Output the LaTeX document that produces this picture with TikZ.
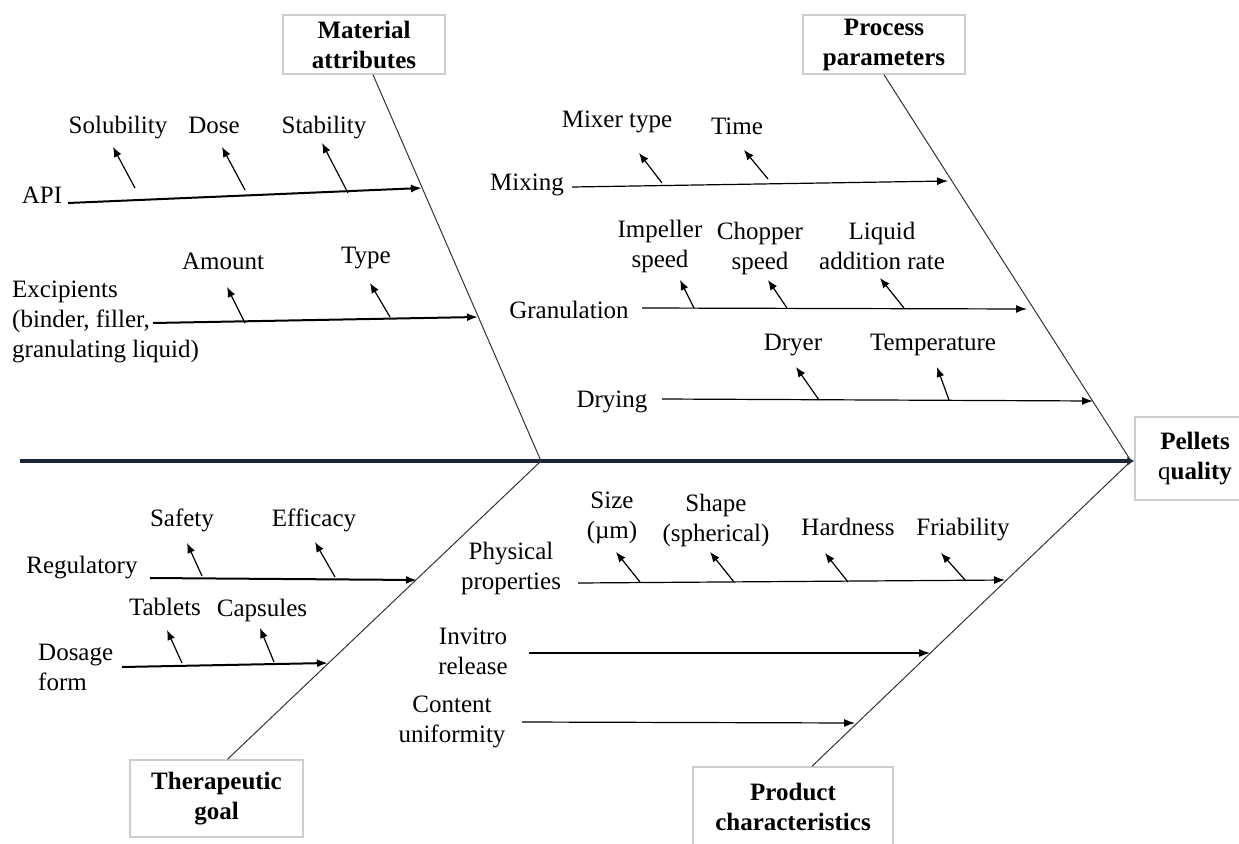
\documentclass[tikz,border=0pt]{standalone}
\usepackage{fontspec}
\setmainfont{Liberation Serif}
\usetikzlibrary{arrows.meta}
\definecolor{spinecol}{RGB}{28,36,60}
\definecolor{boxline}{RGB}{205,205,205}
\tikzset{
  txt/.style={font=\fontsize{25}{30}\selectfont, inner sep=0pt, align=center},
  catbox/.style={draw=boxline, line width=1.5pt, fill=white, inner sep=0pt,
    font=\fontsize{25}{30}\selectfont\bfseries, align=center},
  spine/.style={-{Latex[length=7pt,width=10pt]}, line width=4pt, draw=spinecol},
  bone/.style={line width=1pt, draw=black!80},
  cause/.style={-{Latex[length=11pt,width=8pt]}, line width=2pt},
  causethin/.style={-{Latex[length=11pt,width=8pt]}, line width=1.2pt},
  subarr/.style={-{Latex[length=10pt,width=8pt]}, line width=1.2pt}
}
\begin{document}
\begin{tikzpicture}[x=1pt,y=-1pt]
\useasboundingbox (0,0) rectangle (1239,843);

\node[catbox, minimum width=162pt, minimum height=59pt] (mat) at (364,44.5) {Material\\attributes};
\node[catbox, minimum width=162pt, minimum height=59pt] (proc) at (884,44.5) {Process\\parameters};
\node[catbox, minimum width=173pt, minimum height=77pt] (ther) at (216.5,798.5) {Therapeutic\\goal};
\node[catbox, minimum width=200pt, minimum height=80pt] (prod) at (793,807) {Product\\characteristics};
\node[catbox, minimum width=120pt, minimum height=83pt] (pq) at (1195,458.5) {Pellets\\{\mdseries q}uality};

\coordinate (tail) at (20,461);
\coordinate (matj) at (541,461);
\coordinate (effj) at (1131,461);
\draw[spine] (tail) -- (pq.west |- tail);

\draw[bone] ([xshift=9pt]mat.south) -- (matj);
\draw[bone] (proc.south) -- (effj);
\draw[bone] ([xshift=11pt]ther.north) -- (matj);
\draw[bone] ([xshift=19pt]prod.north) -- (effj);

\node[txt] (api) at (42,195) {API};
\coordinate (api-a) at (68,203);
\coordinate (api-b) at (422,188);
\draw[cause] (api-a) -- (api-b);

\node[txt, anchor=west, align=left] (exc) at (12,322) {Excipients\\(binder, filler,\\granulating liquid)};
\coordinate (exc-a) at (153,323);
\coordinate (exc-b) at (478,317);
\draw[cause] (exc-a) -- (exc-b);

\node[txt] (mixing) at (527,185) {Mixing};
\coordinate (mixing-a) at (572,187);
\coordinate (mixing-b) at (948,181);
\draw[causethin] (mixing-a) -- (mixing-b);

\node[txt] (gran) at (569,310) {Granulation};
\coordinate (gran-a) at (642,308);
\coordinate (gran-b) at (1027,309);
\draw[causethin] (gran-a) -- (gran-b);

\node[txt] (drying) at (612,402) {Drying};
\coordinate (drying-a) at (662,399);
\coordinate (drying-b) at (1093,401);
\draw[causethin] (drying-a) -- (drying-b);

\node[txt] (reg) at (82,568) {Regulatory};
\coordinate (reg-a) at (150,578);
\coordinate (reg-b) at (417,580);
\draw[cause] (reg-a) -- (reg-b);

\node[txt, anchor=west, align=left] (dos) at (38,667) {Dosage\\form};
\coordinate (dos-a) at (122,667);
\coordinate (dos-b) at (328,663);
\draw[cause] (dos-a) -- (dos-b);

\node[txt] (phys) at (511,568) {Physical\\properties};
\coordinate (phys-a) at (578,583);
\coordinate (phys-b) at (1005,580);
\draw[causethin] (phys-a) -- (phys-b);

\node[txt] (invit) at (473,651) {Invitro\\release};
\coordinate (invit-a) at (529,653);
\coordinate (invit-b) at (930,653);
\draw[causethin] (invit-a) -- (invit-b);

\node[txt] (cont) at (452,722) {Content\\uniformity};
\coordinate (cont-a) at (522,722);
\coordinate (cont-b) at (855,723);
\draw[causethin] (cont-a) -- (cont-b);

\foreach \nm/\ax/\ay/\bx/\by/\lx/\ly/\txt in {
  sol/135/188/113/147/118/128/Solubility,
  dose/245/190/222/147/214/125/Dose,
  stab/348/193/322/143/324/128/Stability,
  amt/245/323/227/287/223/261/Amount,
  typ/390/317/370/283/366/258/Type,
  mix/662/183/639/153/617/122/Mixer type,
  time/768/179/744/150/737/126/Time,
  imp/694/308/680/280/660/246/{Impeller\\speed},
  chop/787/308/768/280/760/248/{Chopper\\speed},
  liq/904/308/880/278/882/246/{Liquid\\addition rate},
  dry/819/400/796/367/793/345/Dryer,
  temp/949/400/937/367/933/345/Temperature,
  saf/202/576/187/543/182/520/Safety,
  eff/335/577/315/542/314/520/Efficacy,
  tab/182/663/167/630/165/607/Tablets,
  cap/274/662/260/628/262/610/Capsules,
  size/640/582/616/552/612/518/{Size\\(µm)},
  shp/734/582/710/552/716/520/{Shape\\(spherical)},
  hard/848/582/825/553/848/527/Hardness,
  fri/966/581/941/553/963/530/Friability}
{
  \node[txt] (\nm) at (\lx,\ly) {\txt};
  \coordinate (\nm-a) at (\ax,\ay);
  \coordinate (\nm-b) at (\bx,\by);
  \draw[subarr] (\nm-a) -- (\nm-b);
}
\end{tikzpicture}
\end{document}
